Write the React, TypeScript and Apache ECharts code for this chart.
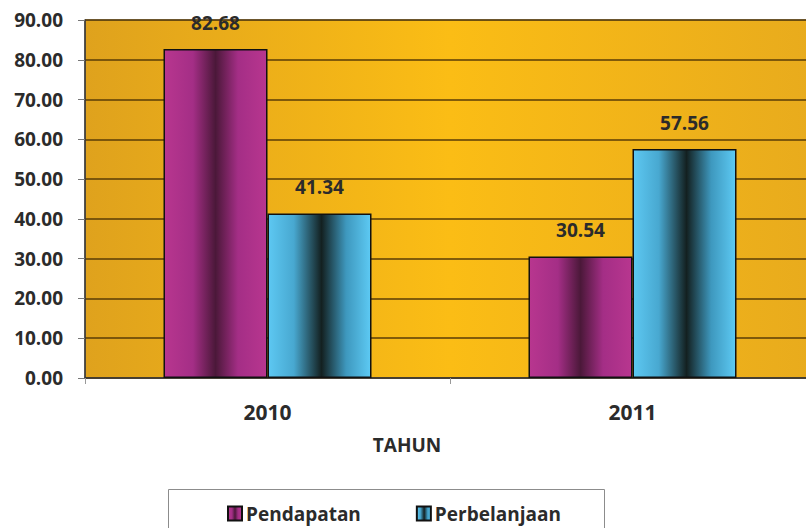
import React, { useEffect, useRef } from "react";
import * as echarts from "echarts";

const categories = ["2010", "2011"];
const pendapatan = [82.68, 30.54];
const perbelanjaan = [41.34, 57.56];
const seriesNames = ["Pendapatan", "Perbelanjaan"];
const axisTitle = "TAHUN";

const FONT = "'Open Sans', sans-serif";

export default function App() {
  const ref = useRef<HTMLDivElement>(null);
  useEffect(() => {
    if (!ref.current) return;
    const chart = echarts.init(ref.current, null, { renderer: "svg" });
    const magenta = new echarts.graphic.LinearGradient(0, 0, 1, 0, [
      { offset: 0, color: "#B8368F" },
      { offset: 0.28, color: "#A42E86" },
      { offset: 0.5, color: "#4B1839" },
      { offset: 0.72, color: "#A42E86" },
      { offset: 1, color: "#B8368F" },
    ]);
    const blue = new echarts.graphic.LinearGradient(0, 0, 1, 0, [
      { offset: 0, color: "#5DC8F2" },
      { offset: 0.25, color: "#48A8D0" },
      { offset: 0.52, color: "#132020" },
      { offset: 0.76, color: "#3E98BE" },
      { offset: 1, color: "#5DCAF4" },
    ]);
    const labelCfg = {
      show: true,
      position: "top" as const,
      distance: 17,
      fontFamily: FONT,
      fontWeight: "bold" as const,
      fontSize: 19,
      color: "#2b2b2b",
      formatter: (p: any) => Number(p.value).toFixed(2),
    };
    chart.setOption({
      animation: false,
      backgroundColor: "#ffffff",
      grid: {
        left: 85,
        width: 730,
        top: 20,
        height: 358,
        outerBoundsMode: "none",
        show: true,
        borderColor: "#4a4a4a",
        borderWidth: 1,
        backgroundColor: new echarts.graphic.LinearGradient(0, 0, 1, 0, [
          { offset: 0, color: "#DFA21D" },
          { offset: 0.5, color: "#FBBD15" },
          { offset: 1, color: "#E8AB1D" },
        ]),
      },
      legend: {
        left: 222,
        top: 499,
        itemWidth: 14,
        itemHeight: 14,
        itemGap: 55,
        icon: "rect",
        data: seriesNames,
        textStyle: {
          fontFamily: FONT,
          fontWeight: "bold",
          fontSize: 19,
          color: "#2b2b2b",
          padding: [0, 0, 0, -1],
        },
      },
      graphic: [
        {
          type: "rect",
          z: -1,
          shape: { x: 168.5, y: 489.5, width: 436, height: 60 },
          style: { fill: "#ffffff", stroke: "#8c8c8c", lineWidth: 1 },
        },
        {
          type: "text",
          x: 407,
          y: 445,
          style: {
            text: axisTitle,
            fontFamily: FONT,
            fontWeight: "bold",
            fontSize: 19,
            fill: "#2b2b2b",
            align: "center",
            verticalAlign: "middle",
          },
        },
      ],
      xAxis: {
        type: "category",
        data: categories,
        axisLine: { show: true, lineStyle: { color: "#3a3a3a", width: 1.5 } },
        axisTick: { show: true, length: 6, lineStyle: { color: "#999" } },
        axisLabel: {
          margin: 23,
          fontFamily: FONT,
          fontWeight: "bold",
          fontSize: 21,
          color: "#2b2b2b",
        },
      },
      yAxis: {
        type: "value",
        min: 0,
        max: 90,
        interval: 10,
        axisLine: { show: true, lineStyle: { color: "#3a3a3a", width: 1.5 } },
        axisTick: { show: true, length: 7, lineStyle: { color: "#777" } },
        axisLabel: {
          margin: 22,
          fontFamily: FONT,
          fontWeight: "bold",
          fontSize: 19,
          color: "#2b2b2b",
          formatter: (v: number) => v.toFixed(2),
        },
        splitLine: {
          show: true,
          lineStyle: { color: "#5a3d06", width: 1.5 },
        },
      },
      series: [
        {
          name: seriesNames[0],
          type: "bar",
          data: pendapatan,
          barWidth: 104,
          barGap: "0%",
          itemStyle: { color: magenta, borderColor: "#111", borderWidth: 1.5 },
          label: labelCfg,
        },
        {
          name: seriesNames[1],
          type: "bar",
          data: perbelanjaan,
          barWidth: 104,
          barGap: "0%",
          itemStyle: { color: blue, borderColor: "#111", borderWidth: 1.5 },
          label: labelCfg,
        },
      ],
    });
    return () => chart.dispose();
  }, []);
  return <div ref={ref} style={{ width: 806, height: 528, position: "absolute", left: 0, top: 0 }} />;
}
